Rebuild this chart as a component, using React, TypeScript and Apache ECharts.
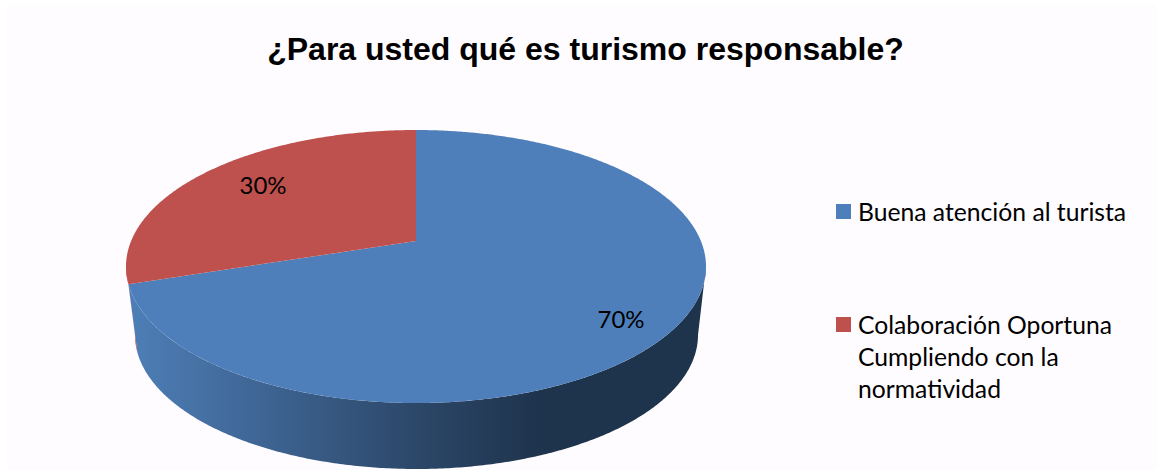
import React, { useEffect, useRef } from "react";
import * as echarts from "echarts";

const categories = ["Buena atención al turista", "Colaboración Oportuna"];
const legendLabels = ["Buena atención al turista", "Colaboración Oportuna\nCumpliendo con la\nnormatividad"];
const shares = [70, 30];
const percentLabels = ["70%", "30%"];
const titleText = "¿Para usted qué es turismo responsable?";

const COLORS = ["#4E7FBB", "#BE504D"];
const LABEL_POS: [number, number][] = [[621, 318], [263, 184]];
const LEGEND_Y = [211.5, 324.5];

const CX = 416, APEX_Y = 241, RX = 290, TOP_Y = 130, BOTTOM_Y = 403;
const EC_Y = (TOP_Y + BOTTOM_Y) / 2, RY = (BOTTOM_Y - TOP_Y) / 2;
const BASE_CX = 416.5, BASE_CY = 335, BASE_RX = 281.5, BASE_RY = 134;
const UP = APEX_Y - TOP_Y, DOWN = BOTTOM_Y - APEX_Y;
const P = (DOWN - UP) / (DOWN + UP);
const A = UP * (1 + P);
const K = RX * Math.sqrt(1 - P * P);
const RAD = Math.PI / 180;

// Project a clockwise-from-top pie angle through the tilted view.
function rim(deg: number): [number, number] {
  const u = Math.sin(deg * RAD), v = -Math.cos(deg * RAD);
  const w = 1 - P * v;
  return [CX + (K * u) / w, APEX_Y + (A * v) / w];
}
function baseRim(deg: number): [number, number] {
  const [x, y] = rim(deg);
  return [BASE_CX + ((x - CX) * BASE_RX) / RX, BASE_CY + ((y - EC_Y) * BASE_RY) / RY];
}
function arc(fn: (d: number) => [number, number], a0: number, a1: number) {
  const out: [number, number][] = [];
  const n = Math.max(2, Math.ceil(Math.abs(a1 - a0) * 2));
  for (let i = 0; i <= n; i++) out.push(fn(a0 + ((a1 - a0) * i) / n));
  return out;
}

const FRONT0 = Math.acos(-P) / RAD;
const FRONT1 = 360 - FRONT0;

const sideFill = [
  new echarts.graphic.LinearGradient(127, 0, 706, 0, [
    { offset: 0, color: "#4E7FB8" },
    { offset: 0.5, color: "#2C4769" },
    { offset: 0.72, color: "#1E334C" },
    { offset: 1, color: "#1E334C" },
  ], true),
  "#A9433F",
];

function renderSlice(params: any, api: any) {
  const i = params.dataIndex;
  const total = shares.reduce((s, v) => s + v, 0);
  const before = shares.slice(0, i).reduce((s, v) => s + v, 0);
  const a0 = (before / total) * 360;
  const a1 = a0 + (api.value(0) / total) * 360;
  const children: any[] = [];
  const s0 = Math.max(a0, FRONT0), s1 = Math.min(a1, FRONT1);
  if (s1 > s0) {
    children.push({
      type: "polygon",
      shape: { points: [...arc(rim, s0, s1), ...arc(baseRim, s1, s0)] },
      style: { fill: sideFill[i] },
      z2: 1,
    });
  }
  children.push({
    type: "polygon",
    shape: { points: [[CX, APEX_Y], ...arc(rim, a0, a1)] },
    style: { fill: COLORS[i] },
    z2: 2,
  });
  children.push({
    type: "text",
    x: LABEL_POS[i][0],
    y: LABEL_POS[i][1],
    z2: 3,
    style: {
      text: percentLabels[i],
      fill: "#000",
      font: '24px Lato',
      align: "center",
      verticalAlign: "middle",
    },
  });
  return { type: "group", children };
}

export default function App() {
  const ref = useRef<HTMLDivElement>(null);
  useEffect(() => {
    document.body.style.margin = "0";
    const chart = echarts.init(ref.current!, undefined, { renderer: "svg" });
    const legendEls: any[] = [];
    legendLabels.forEach((label, i) => {
      legendEls.push({
        type: "rect",
        shape: { x: 836, y: LEGEND_Y[i] - 7.5, width: 15, height: 15 },
        style: { fill: COLORS[i] },
      });
      legendEls.push({
        type: "text",
        x: 858,
        y: LEGEND_Y[i] - 16.5,
        style: {
          text: label,
          fill: "#000",
          font: '24.7px Lato',
          lineHeight: 32,
          align: "left",
          verticalAlign: "top",
        },
      });
    });
    chart.setOption({
      animation: false,
      backgroundColor: "#FFFFFF",
      title: {
        text: titleText,
        left: 580.5,
        top: 28,
        textAlign: "center",
        textStyle: { fontFamily: "Liberation Sans", fontWeight: "bold", fontSize: 32, color: "#000" },
      },
      graphic: [
        {
          type: "rect",
          z: -1,
          shape: { x: 7, y: 5, width: 1150, height: 465 },
          style: { fill: "#FFFCFF" },
        },
        ...legendEls,
      ],
      series: [
        {
          type: "custom",
          coordinateSystem: "none",
          renderItem: renderSlice,
          data: shares.map((v, i) => ({ name: categories[i], value: [v] })),
          silent: true,
        },
      ],
    });
    return () => chart.dispose();
  }, []);
  return <div ref={ref} style={{ width: 1157, height: 470 }} />;
}
